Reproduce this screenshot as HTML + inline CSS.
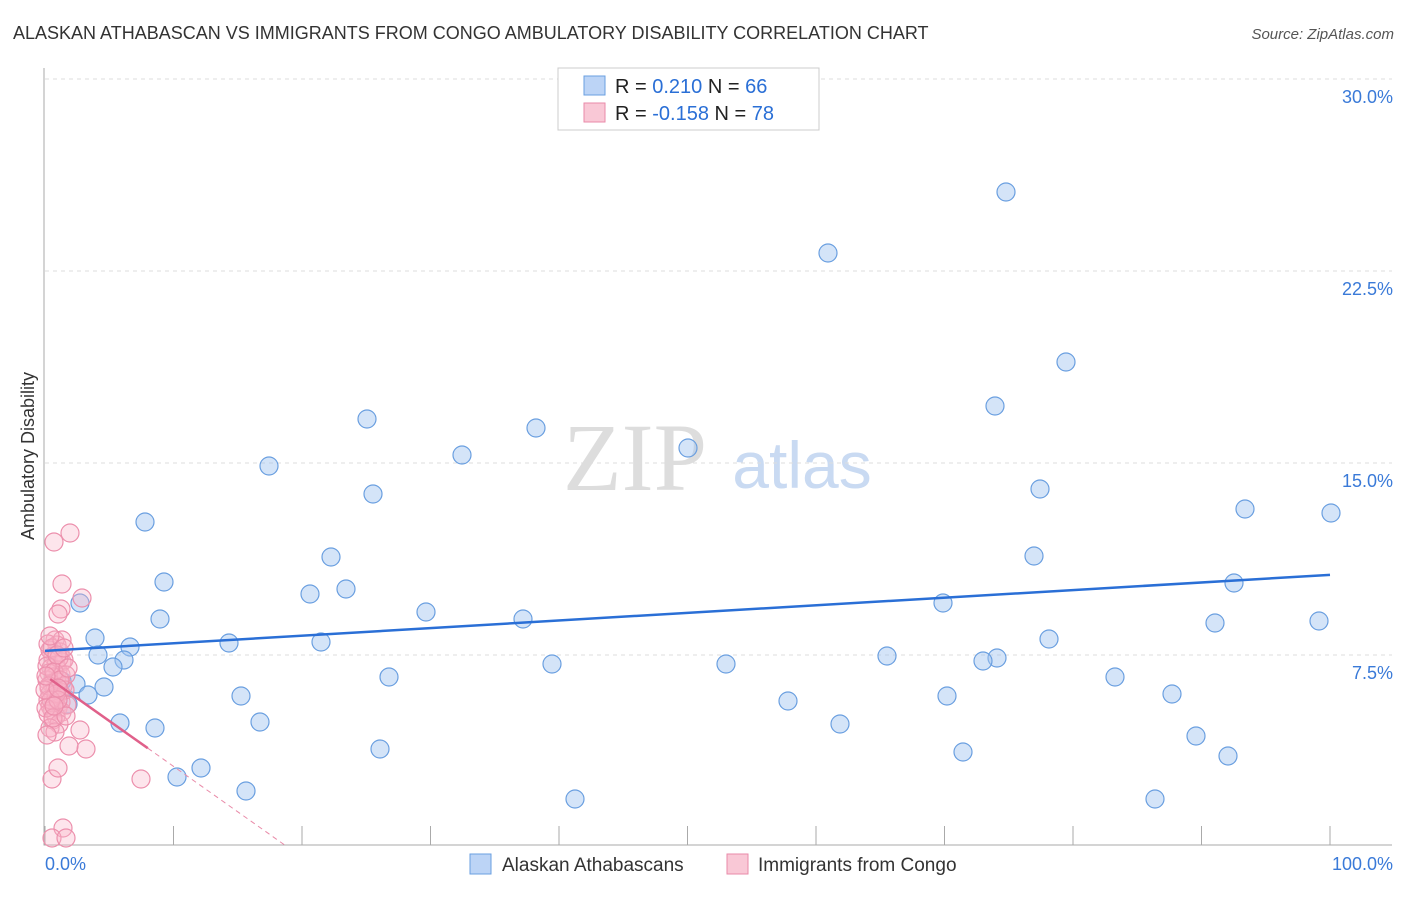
<!DOCTYPE html>
<html><head><meta charset="utf-8"><style>
body{margin:0;background:#fff;font-family:"Liberation Sans",sans-serif}
</style></head><body>
<svg id="chart" width="1406" height="892" xmlns="http://www.w3.org/2000/svg" font-family="Liberation Sans, sans-serif">
<text x="13" y="39" font-size="18" fill="#333">ALASKAN ATHABASCAN VS IMMIGRANTS FROM CONGO AMBULATORY DISABILITY CORRELATION CHART</text>
<text x="1394" y="39" font-size="15" fill="#555" text-anchor="end" font-style="italic">Source: ZipAtlas.com</text>
<text transform="translate(34,456) rotate(-90)" font-size="18" fill="#333" text-anchor="middle">Ambulatory Disability</text>
<g>
<text x="635" y="490" font-size="96" fill="#ddd" font-family="Liberation Serif, serif" text-anchor="middle">ZIP</text>
<text x="802" y="488" font-size="66" fill="#c9daf2" text-anchor="middle">atlas</text>
</g>
<g id="grid"></g><g id="axes"></g><g id="pts"></g><g id="lines"></g>
<g>
<rect x="558" y="68" width="261" height="62" fill="#fff" stroke="#ccc"/>
<rect x="584" y="76" width="21" height="19" fill="#bcd4f6" stroke="#6a9fe0"/>
<rect x="584" y="103" width="21" height="19" fill="#f9c8d6" stroke="#e98aa8"/>
<text x="615" y="93" font-size="20" fill="#222">R =  <tspan fill="#2a6fd6">  0.210</tspan>    N = <tspan fill="#2a6fd6">66</tspan></text>
<text x="615" y="120" font-size="20" fill="#222">R = <tspan fill="#2a6fd6">-0.158</tspan>    N = <tspan fill="#2a6fd6">78</tspan></text>
</g>
<g>
<rect x="470" y="854" width="21" height="20" fill="#bcd4f6" stroke="#6a9fe0"/>
<text x="502" y="871" font-size="19" fill="#333">Alaskan Athabascans</text>
<rect x="727" y="854" width="21" height="20" fill="#f9c8d6" stroke="#e98aa8"/>
<text x="758" y="871" font-size="19" fill="#333">Immigrants from Congo</text>
</g>
</svg>
<script>
const yTicks=[7.5,15,22.5,30];
const yTickLabels=["7.5%","15.0%","22.5%","30.0%"];
const xTickLabels=["0.0%","100.0%"];
const bluePx=[[1006,192],[828,253],[1066,362],[995,406],[367,419],[536,428],[688,448],[462,455],[269,466],[373,494],[1040,489],[1245,509],[1331,513],[145,522],[331,557],[1034,556],[164,582],[1234,583],[346,589],[310,594],[80,603],[943,603],[426,612],[160,619],[523,619],[1215,623],[1319,621],[95,638],[1049,639],[229,643],[321,642],[130,647],[98,655],[887,656],[124,660],[997,658],[983,661],[552,664],[726,664],[113,667],[76,684],[62,681],[104,687],[88,695],[389,677],[1115,677],[241,696],[947,696],[1172,694],[68,704],[788,701],[120,723],[260,722],[155,728],[840,724],[1196,736],[380,749],[963,752],[1228,756],[201,768],[177,777],[246,791],[575,799],[1155,799]];
const pinkPx=[[54,542],[70,533],[62,584],[61,609],[82,598],[58,614],[80,730],[86,749],[69,746],[141,779],[52,779],[58,768],[63,828],[52,838],[66,838],
[55,640],[57,645],[50,650],[60,652],[53,656],[48,660],[62,662],[56,665],[51,668],[58,670],[49,673],[61,675],[54,677],[47,680],[57,682],[52,684],[63,686],[49,688],[55,690],[60,692],[50,694],[57,696],[53,698],[48,700],[61,702],[55,704],[50,706],[58,708],[52,710],[62,712],[48,714],[56,716],[53,720],[59,724],[50,728],[55,732],[64,660],[66,675],[65,690],[67,705],[48,644],[52,648],[59,658],[47,666],[54,672],[60,680],[49,686],[56,694],[51,700],[46,708],[58,700],[62,640],[50,636],[53,718],[47,735],[57,655],[64,648],[68,668],[66,716],[45,690],[46,676],[58,688],[54,706]];
const blueLine=[7.66,10.63];
const pinkLine={intercept:6.7,slope:-0.355,solidEnd:8,end:18.8};
const X=p=>45+12.85*p, Y=v=>847-25.6*v;
const pxToP=x=>(x-45)/12.85, pxToV=y=>(847-y)/25.6;
const blueVals=bluePx.map(([x,y])=>[pxToP(x),pxToV(y)]);
const pinkVals=pinkPx.map(([x,y])=>[pxToP(x),pxToV(y)]);
const NS="http://www.w3.org/2000/svg";
function mk(t,a,parent){const e=document.createElementNS(NS,t);for(const k in a)e.setAttribute(k,a[k]);document.getElementById(parent).appendChild(e);return e;}
yTicks.forEach((v,i)=>{
 const l=mk('line',{x1:45,x2:1392,y1:Y(v),y2:Y(v),stroke:'#ddd','stroke-dasharray':'4,4'},'grid');
 
 
 const t=mk('text',{x:1393,y:Y(v)+24,'font-size':18,fill:'#3a7ad8','text-anchor':'end'},'grid');
 t.textContent=yTickLabels[i];
 
 
});
const ax=mk('path',{d:'M44,68V845H1392',fill:'none',stroke:'#aaa'},'axes');


for(let i=0;i<=10;i++){
 const tk=mk('line',{x1:X(i*10),x2:X(i*10),y1:826,y2:845,stroke:'#aaa'},'axes');
 
 
}
[[0,45,'start'],[100,1393,'end']].forEach(([p,x,a],i)=>{
 const t=mk('text',{x:x,y:870,'font-size':18,fill:'#3a7ad8','text-anchor':a},'axes');
 t.textContent=xTickLabels[i];
 
 
});
blueVals.forEach(([p,v])=>{
 const c=mk('circle',{cx:X(p),cy:Y(v),r:9,fill:'rgba(160,196,240,0.45)',stroke:'#6a9fe0','stroke-width':1.2},'pts');
 
 
});
pinkVals.forEach(([p,v])=>{
 const c=mk('circle',{cx:X(p),cy:Y(v),r:9,fill:'rgba(248,180,200,0.35)',stroke:'#ec8fac','stroke-width':1.2},'pts');
 
 
});
const bl=mk('line',{x1:X(0),y1:Y(blueLine[0]),x2:X(100),y2:Y(blueLine[1]),stroke:'#2a6fd6','stroke-width':2.5},'lines');


const pv=p=>pinkLine.intercept+pinkLine.slope*p;
const ps=mk('line',{x1:X(0.4),y1:Y(pv(0.4)),x2:X(pinkLine.solidEnd),y2:Y(pv(pinkLine.solidEnd)),stroke:'#e0608a','stroke-width':2.5},'lines');


const pd=mk('line',{x1:X(pinkLine.solidEnd),y1:Y(pv(pinkLine.solidEnd)),x2:X(pinkLine.end),y2:Y(pv(pinkLine.end)),stroke:'#e98aa8','stroke-width':1,'stroke-dasharray':'5,4'},'lines');


</script>
</body></html>
